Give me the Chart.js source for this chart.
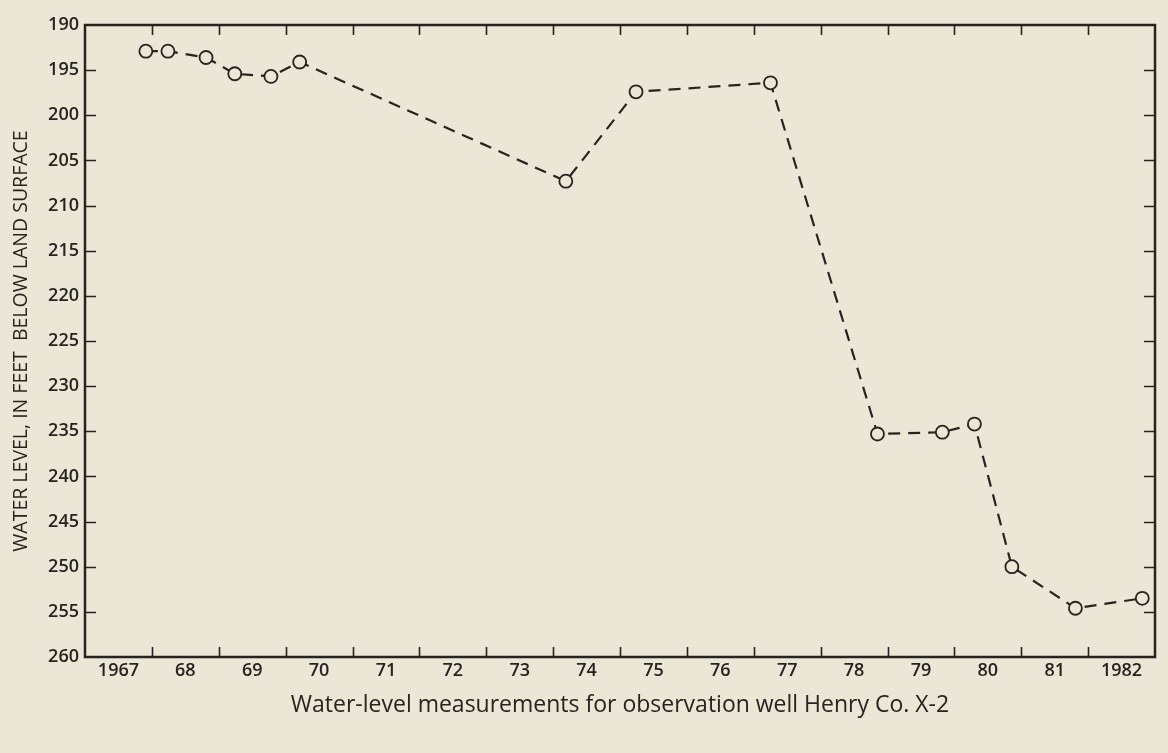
<!DOCTYPE html>
<html>
<head>
<meta charset="utf-8">
<script src="https://cdn.jsdelivr.net/npm/chart.js@4.4.1/dist/chart.umd.min.js"></script>
<style>
  html, body { margin: 0; padding: 0; background: #ebe6d5; }
  #wrap { width: 1168px; height: 753px; position: relative; }
</style>
</head>
<body>
<div id="wrap"><canvas id="wellChart"></canvas></div>
<script>
// year labels sit centred in each year's interval
const yearLabels = ['1967', '68', '69', '70', '71', '72', '73', '74', '75', '76', '77', '78', '79', '80', '81', '1982'];

// measurement dates (decimal years) and depth to water, feet below land surface
const measureDates = [1967.91, 1968.24, 1968.81, 1969.24, 1969.78, 1970.21, 1974.19, 1975.24, 1977.25,
                      1978.85, 1979.82, 1980.30, 1980.86, 1981.81, 1982.81];
const depthFeet = [192.9, 192.9, 193.6, 195.4, 195.7, 194.1, 207.3, 197.4, 196.4,
                   235.3, 235.1, 234.2, 250.0, 254.6, 253.5];

const yMin = 190, yMax = 260, yStep = 5;
const xMin = 1967, xMax = 1983;

const ink = '#262421';
const paper = '#ebe6d5';
const fontFamily = '"Open Sans", "Noto Sans", sans-serif';

// frame + inward tick marks on all four sides
const frameTicks = {
  id: 'frameTicks',
  beforeDatasetsDraw(chart) {
    const { ctx, chartArea: a } = chart;
    const xs = chart.scales.x, ys = chart.scales.y;
    ctx.save();
    ctx.strokeStyle = ink;
    ctx.lineWidth = 1.6;
    ctx.beginPath();
    ys.ticks.forEach(t => {
      if (t.value <= yMin || t.value >= yMax) return;
      const py = Math.round(ys.getPixelForValue(t.value)) + 0.5;
      ctx.moveTo(a.left, py); ctx.lineTo(a.left + 11, py);
      ctx.moveTo(a.right, py); ctx.lineTo(a.right - 11, py);
    });
    xs.ticks.forEach(t => {
      if (t.value <= xMin || t.value >= xMax) return;
      const px = Math.round(xs.getPixelForValue(t.value)) + 0.5;
      ctx.moveTo(px, a.top); ctx.lineTo(px, a.top + 10);
      ctx.moveTo(px, a.bottom); ctx.lineTo(px, a.bottom - 10);
    });
    ctx.stroke();
    ctx.lineWidth = 2.5;
    ctx.strokeRect(a.left, a.top, a.right - a.left, a.bottom - a.top);
    ctx.restore();
  }
};

new Chart(document.getElementById('wellChart'), {
  type: 'line',
  data: {
    labels: yearLabels,
    datasets: [{
      data: measureDates.map((d, i) => ({ x: d, y: depthFeet[i] })),
      xAxisID: 'x',
      yAxisID: 'y',
      borderColor: ink,
      borderWidth: 2.2,
      borderDash: [12, 8],
      tension: 0,
      pointRadius: 6.5,
      pointBorderWidth: 1.8,
      pointBorderColor: ink,
      pointBackgroundColor: paper
    }]
  },
  options: {
    responsive: true,
    maintainAspectRatio: false,
    animation: false,
    layout: { padding: { top: 25, right: 13, left: 0, bottom: 0 } },
    plugins: { legend: { display: false }, tooltip: { enabled: false } },
    scales: {
      x: {
        type: 'linear', display: false, min: xMin, max: xMax,
        ticks: { stepSize: 1 }
      },
      xl: {
        type: 'category', position: 'bottom', offset: true,
        grid: { display: false, drawTicks: false },
        border: { display: false },
        ticks: { color: ink, padding: 3, maxRotation: 0, autoSkip: false,
                 font: { family: fontFamily, size: 18, weight: '600' } },
        title: {
          display: true, color: ink,
          text: 'Water-level measurements for observation well Henry Co. X-2',
          font: { family: fontFamily, size: 23 },
          padding: { top: 0, bottom: 34 }
        },
        afterFit(s) { s.height = 96; }
      },
      y: {
        type: 'linear', reverse: true, min: yMin, max: yMax,
        grid: { display: false, drawTicks: false },
        border: { display: false },
        ticks: { stepSize: yStep, padding: 6, color: ink,
                 font: { family: fontFamily, size: 18, weight: '600' } },
        title: {
          display: true, color: ink,
          text: 'WATER LEVEL, IN FEET  BELOW LAND SURFACE',
          font: { family: fontFamily, size: 19.5 },
          padding: { top: 10, bottom: 0 }
        },
        afterFit(s) { s.width = 85; }
      }
    }
  },
  plugins: [frameTicks]
});
</script>
</body>
</html>
